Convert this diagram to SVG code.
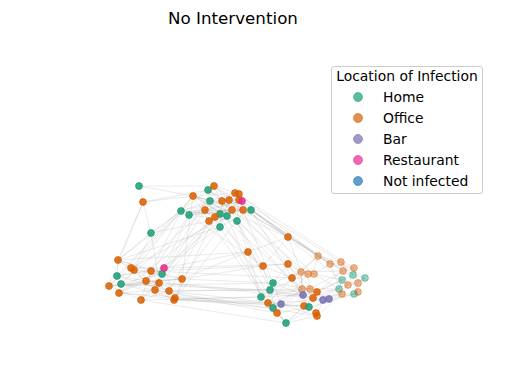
<svg xmlns="http://www.w3.org/2000/svg" width="506" height="379" viewBox="0 0 506 379">
<style>
text{font-family:"DejaVu Sans",sans-serif;fill:#000}
.e{fill:none;stroke:#999;stroke-width:0.5;stroke-opacity:0.42}
.h circle{fill:#1b9e77}
.o circle{fill:#d95f02}
.b circle{fill:#7570b3}
.r circle{fill:#e7298a}
.n circle{fill:#1f77b4}
circle{fill-opacity:0.85;stroke-width:0.8}
.h circle{stroke:#1b9e77}.o circle{stroke:#d95f02}.b circle{stroke:#7570b3}.r circle{stroke:#e7298a}
.lt circle{fill-opacity:0.45;stroke-opacity:0.55}
.lg circle{fill-opacity:0.7;stroke-opacity:0.7}
.lt2{font-size:13.9px}
</style>
<rect width="506" height="379" fill="#fff"/>
<text x="233" y="24" font-size="16.7" text-anchor="middle">No Intervention</text>
<g id="connectors">
<path class="e" d="M214 186L193 196M214 186L229 200M214 186L239 194M214 186L205 210M214 186L227 216M214 186L243 210M208 190L222 201M208 190L181 211M208 190L232 210M193 196L210 201M193 196L235 193M193 196L181 211M193 196L216 210M193 196L209 221M193 196L243 210M193 196L251 210M210 201L239 200M210 201L189 215M210 201L237 221M222 201L242 201M222 201L181 211M222 201L220 227M229 200L205 210M229 200L251 210M235 193L181 211M235 193L209 221M239 194L189 215M239 194L220 214M242 201L205 210M242 201L189 215M181 211L251 210M181 211L227 216M189 215L243 210M189 215L237 221M205 210L251 210M205 210L220 227M232 210L209 221M232 210L189 215M243 210L215 217M251 210L220 227M237 221L205 210M220 214L181 211M227 216L193 196M243 210L208 190M251 210L214 186M237 221L239 194M220 227L229 200M209 221L242 201"/>
<path class="e" d="M139 186L193 196M139 186L214 186M139 186L143 202M143 202L193 196M143 202L208 190M143 202L151 233M143 202L118 260M143 202L109 286M151 233L181 211M151 233L118 260M151 233L134 270M151 233L159 283M151 233L209 221"/>
<path class="e" d="M181 211L118 260M181 211L131 268M181 211L151 271M189 215L164 268M189 215L146 281M193 196L134 270M193 196L182 279M205 210L159 283M205 210L121 284M209 221L169 291M209 221L141 300M215 217L175 299M215 217L155 290M220 227L118 260M220 227L164 268M220 227L182 279M227 216L146 281M237 221L175 299M181 211L109 286M193 196L117 276M214 186L162 274M220 214L119 293M227 216L131 268"/>
<path class="e" d="M118 260L131 268M118 260L151 271M118 260L117 276M118 260L146 281M118 260L182 279M131 268L164 268M131 268L109 286M131 268L155 290M134 270L182 279M134 270L121 284M134 270L169 291M151 271L117 276M151 271L159 283M151 271L141 300M164 268L146 281M164 268L119 293M164 268L175 299M162 274L109 286M162 274L155 290M182 279L121 284M182 279L146 281M182 279L175 299M117 276L146 281M117 276L169 291M109 286L159 283M109 286L141 300M121 284L155 290M121 284L175 299M146 281L169 291M146 281L119 293M159 283L141 300M119 293L175 299M119 293L155 290M155 290L174 300M141 300L169 291M109 286L182 279M117 276L164 268"/>
<path class="e" d="M175 299L261 297M175 299L268 303M175 299L273 308M169 291L270 290M169 291L302 289M182 279L273 283M182 279L263 266M182 279L248 252M155 290L277 313M141 300L286 323M141 300L261 297M119 293L268 303M109 286L273 283M121 284L270 290M146 281L303 295M159 283L313 298M164 268L248 252M164 268L288 264M151 271L263 266M134 270L292 278M174 300L304 306M169 291L281 304M118 260L248 252M155 290L317 316M175 299L309 307"/>
<path class="e" d="M243 210L288 237M251 210L288 237M251 210L318 256M243 210L301 272M237 221L248 252M237 221L263 266M251 210L330 264M232 210L308 274M242 201L288 237M242 201L341 262M239 194L318 256M229 200L288 264M251 210L292 278M243 210L273 283M237 221L270 290M227 216L261 297M220 227L273 308M222 201L303 295M235 193L354 268M251 210L343 271M209 221L268 303M216 210L286 323M220 214L302 289M239 200L313 274M189 215L263 266M193 196L288 237M205 210L248 252M251 210L342 280M243 210L353 275M237 221L317 292"/>
<path class="e" d="M288 237L318 256M288 237L263 266M288 237L301 272M288 237L248 252M288 237L330 264M248 252L263 266M248 252L273 283M248 252L261 297M263 266L288 264M263 266L292 278M263 266L270 290M288 264L301 272M288 264L273 283M288 264L313 298M292 278L302 289M292 278L268 303M292 278L309 307M292 278L318 256"/>
<path class="e" d="M273 283L270 290M273 283L281 304M273 283L303 295M270 290L261 297M270 290L277 313M270 290L313 298M261 297L268 303M261 297L286 323M268 303L273 308M268 303L304 306M273 308L281 304M273 308L286 323M281 304L277 313M281 304L317 316M277 313L286 323M277 313L309 307M286 323L317 316M286 323L304 306M303 295L313 298M303 295L317 292M313 298L304 306M313 298L323 300M317 292L329 299M304 306L309 307M309 307L317 316M317 316L323 300M323 300L329 299M261 297L303 295M270 290L317 292M273 308L313 298M268 303L323 300M286 323L329 299M281 304L302 289M273 283L310 289"/>
<path class="e" d="M318 256L330 264M318 256L341 262M318 256L301 272M318 256L343 271M330 264L341 262M330 264L314 274M330 264L354 268M341 262L353 275M341 262L365 278M301 272L308 274M308 274L314 274M314 274L342 280M301 272L343 271M343 271L354 268M343 271L348 285M354 268L353 275M353 275L365 278M365 278L358 283M342 280L348 285M348 285L358 283M342 280L339 289M339 289L342 294M342 294L355 294M355 294L358 293M358 283L355 294M302 289L310 289M310 289L316 292M302 289L339 289M310 289L343 271M314 274L339 289M301 272L302 289M308 274L310 289M330 264L342 294M341 262L358 293M318 256L313 274M365 278L355 294M348 285L342 294M354 268L358 283"/>
<path class="e" d="M303 295L339 289M313 298L342 294M317 292L342 280M323 300L342 294M329 299L355 294M304 306L339 289M309 307L358 293M317 316L342 294M313 298L365 278M317 292L343 271M303 295L301 272M316 292L353 275M329 299L348 285M281 304L308 274M277 313L302 289M286 323L313 298M273 283L301 272M270 290L308 274M261 297L302 289M268 303L310 289"/>
</g>
<g id="n_i1" class="h"><circle cx="139" cy="186" r="3.4"/></g>
<g id="n_i2" class="o"><circle cx="143" cy="202" r="3.4"/></g>
<g id="n_i3" class="h"><circle cx="151" cy="233" r="3.4"/></g>
<g id="n_t2" class="h"><circle cx="208" cy="190" r="3.4"/></g>
<g id="n_t1" class="o"><circle cx="214" cy="186" r="3.4"/></g>
<g id="n_t3" class="o"><circle cx="193" cy="196" r="3.4"/></g>
<g id="n_t4" class="h"><circle cx="210" cy="201" r="3.4"/></g>
<g id="n_t5" class="o"><circle cx="222" cy="201" r="3.4"/></g>
<g id="n_t6" class="o"><circle cx="229" cy="200" r="3.4"/></g>
<g id="n_t7" class="o"><circle cx="235" cy="193" r="3.4"/></g>
<g id="n_t8" class="o"><circle cx="239" cy="194" r="3.4"/></g>
<g id="n_t9" class="o"><circle cx="239" cy="200" r="3.4"/></g>
<g id="n_t10" class="r"><circle cx="242" cy="201" r="3.4"/></g>
<g id="n_t11" class="h"><circle cx="181" cy="211" r="3.4"/></g>
<g id="n_t12" class="h"><circle cx="189" cy="215" r="3.4"/></g>
<g id="n_t13" class="o"><circle cx="205" cy="210" r="3.4"/></g>
<g id="n_t15" class="o"><circle cx="232" cy="210" r="3.4"/></g>
<g id="n_t16" class="o"><circle cx="243" cy="210" r="3.4"/></g>
<g id="n_t17" class="h"><circle cx="251" cy="210" r="3.4"/></g>
<g id="n_t20" class="h"><circle cx="220" cy="214" r="3.4"/></g>
<g id="n_t21" class="h"><circle cx="227" cy="216" r="3.4"/></g>
<g id="n_t19" class="o"><circle cx="215" cy="217" r="3.4"/></g>
<g id="n_t18" class="o"><circle cx="209" cy="221" r="3.4"/></g>
<g id="n_t22" class="h"><circle cx="237" cy="221" r="3.4"/></g>
<g id="n_t23" class="h"><circle cx="220" cy="227" r="3.4"/></g>
<g id="n_l1" class="o"><circle cx="118" cy="260" r="3.4"/></g>
<g id="n_l2" class="o"><circle cx="131" cy="268" r="3.4"/></g>
<g id="n_l3" class="o"><circle cx="134" cy="270" r="3.4"/></g>
<g id="n_l4" class="o"><circle cx="151" cy="271" r="3.4"/></g>
<g id="n_l6" class="h"><circle cx="162" cy="274" r="3.4"/></g>
<g id="n_l5" class="r"><circle cx="164" cy="268" r="3.4"/></g>
<g id="n_l7" class="o"><circle cx="182" cy="279" r="3.4"/></g>
<g id="n_l8" class="h"><circle cx="117" cy="276" r="3.4"/></g>
<g id="n_l9" class="o"><circle cx="109" cy="286" r="3.4"/></g>
<g id="n_l10" class="h"><circle cx="121" cy="284" r="3.4"/></g>
<g id="n_l11" class="o"><circle cx="146" cy="281" r="3.4"/></g>
<g id="n_l12" class="o"><circle cx="159" cy="283" r="3.4"/></g>
<g id="n_l13" class="o"><circle cx="119" cy="293" r="3.4"/></g>
<g id="n_l14" class="o"><circle cx="155" cy="290" r="3.4"/></g>
<g id="n_l15" class="o"><circle cx="169" cy="291" r="3.4"/></g>
<g id="n_l16" class="o"><circle cx="141" cy="300" r="3.4"/></g>
<g id="n_l17" class="o"><circle cx="175" cy="298" r="3.4"/></g>
<g id="n_l18" class="o"><circle cx="174" cy="300" r="3.4"/></g>
<g id="n_m1" class="o"><circle cx="288" cy="237" r="3.4"/></g>
<g id="n_m2" class="o"><circle cx="248" cy="252" r="3.4"/></g>
<g id="n_m3" class="o"><circle cx="263" cy="266" r="3.4"/></g>
<g id="n_m4" class="o"><circle cx="288" cy="264" r="3.4"/></g>
<g id="n_m5" class="o"><circle cx="292" cy="278" r="3.4"/></g>
<g id="n_r1" class="o lt"><circle cx="318" cy="256" r="3.4"/></g>
<g id="n_r2" class="o lt"><circle cx="330" cy="264" r="3.4"/></g>
<g id="n_r3" class="o lt"><circle cx="341" cy="262" r="3.4"/></g>
<g id="n_r4" class="o lt"><circle cx="301" cy="272" r="3.4"/></g>
<g id="n_r5" class="o lt"><circle cx="308" cy="274" r="3.4"/></g>
<g id="n_r6" class="o lt"><circle cx="314" cy="274" r="3.4"/></g>
<g id="n_r7" class="o lt"><circle cx="343" cy="271" r="3.4"/></g>
<g id="n_r8" class="o lt"><circle cx="354" cy="268" r="3.4"/></g>
<g id="n_r9" class="h lt"><circle cx="353" cy="275" r="3.4"/></g>
<g id="n_r10" class="h lt"><circle cx="365" cy="278" r="3.4"/></g>
<g id="n_r11" class="h lt"><circle cx="342" cy="280" r="3.4"/></g>
<g id="n_r12" class="o lt"><circle cx="348" cy="285" r="3.4"/></g>
<g id="n_r13" class="o lt"><circle cx="358" cy="283" r="3.4"/></g>
<g id="n_r14" class="h lt"><circle cx="339" cy="289" r="3.4"/></g>
<g id="n_r15" class="o lt"><circle cx="302" cy="289" r="3.4"/></g>
<g id="n_r16" class="o lt"><circle cx="310" cy="289" r="3.4"/></g>
<g id="n_r17" class="o lt"><circle cx="342" cy="294" r="3.4"/></g>
<g id="n_r19" class="o lt"><circle cx="358" cy="292" r="3.4"/></g>
<g id="n_r18" class="h lt"><circle cx="354" cy="294" r="3.4"/></g>
<g id="n_b1" class="h"><circle cx="273" cy="283" r="3.4"/></g>
<g id="n_b2" class="h"><circle cx="270" cy="290" r="3.4"/></g>
<g id="n_b3" class="h"><circle cx="261" cy="297" r="3.4"/></g>
<g id="n_b4" class="o"><circle cx="268" cy="303" r="3.4"/></g>
<g id="n_b5" class="h"><circle cx="273" cy="308" r="3.4"/></g>
<g id="n_b6" class="b"><circle cx="281" cy="304" r="3.4"/></g>
<g id="n_b7" class="o"><circle cx="277" cy="313" r="3.4"/></g>
<g id="n_b8" class="h"><circle cx="286" cy="323" r="3.4"/></g>
<g id="n_b11" class="o"><circle cx="317" cy="292" r="3.4"/></g>
<g id="n_b9" class="b"><circle cx="303" cy="295" r="3.4"/></g>
<g id="n_b10" class="o"><circle cx="313" cy="298" r="3.4"/></g>
<g id="n_b12" class="o"><circle cx="304" cy="306" r="3.4"/></g>
<g id="n_b13" class="h"><circle cx="309" cy="307" r="3.4"/></g>
<g id="n_b14" class="o"><circle cx="317" cy="316" r="3.4"/></g>
<g id="n_b14b" class="o"><circle cx="316" cy="313" r="3.4"/></g>
<g id="n_b15" class="b"><circle cx="323" cy="300" r="3.4"/></g>
<g id="n_b16" class="b"><circle cx="329" cy="299" r="3.4"/></g>
<g id="legend">
<rect x="331.5" y="66.5" width="151" height="127" rx="2.5" fill="#fff" fill-opacity="0.8" stroke="#ccc" stroke-width="1"/>
<text class="lt2" x="407" y="81" text-anchor="middle">Location of Infection</text>
<g class="h lg"><circle cx="358" cy="97" r="4.5"/></g>
<g class="o lg"><circle cx="358" cy="118" r="4.5"/></g>
<g class="b lg"><circle cx="358" cy="139" r="4.5"/></g>
<g class="r lg"><circle cx="358" cy="160" r="4.5"/></g>
<g class="n lg"><circle cx="358" cy="181" r="4.5" stroke="#1f77b4"/></g>
<text class="lt2" x="383" y="102">Home</text>
<text class="lt2" x="383" y="123">Office</text>
<text class="lt2" x="383" y="144">Bar</text>
<text class="lt2" x="383" y="165">Restaurant</text>
<text class="lt2" x="383" y="186">Not infected</text>
</g>
</svg>
